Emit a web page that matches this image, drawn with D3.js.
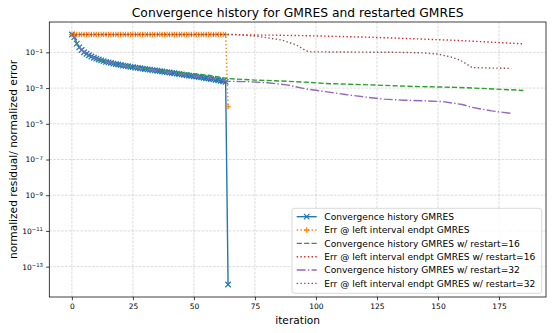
<!DOCTYPE html>
<html>
<head>
<meta charset="utf-8">
<script src="https://cdn.jsdelivr.net/npm/d3@7"></script>
<style>
	body { margin: 0; background: #fff; }
	text { font-family: "DejaVu Sans", sans-serif; fill: #000; }
</style>
</head>
<body>
<div id="chart"></div>
<script>
// Residual history of full GMRES (x = iteration = index)
const gmresResidual = [
	1.0, 0.708, 0.309, 0.191, 0.135, 0.102, 0.0832, 0.0692, 0.0589, 0.0501, 0.0447, 0.0398, 0.0355, 0.0324, 0.0295, 0.0275,
	0.0257, 0.0234, 0.0219, 0.0209, 0.0195, 0.0182, 0.0174, 0.0166, 0.0155, 0.0148, 0.0141, 0.0135, 0.0129, 0.0123, 0.0117, 0.0112,
	0.0107, 0.0102, 0.00977, 0.00933, 0.00891, 0.00851, 0.00813, 0.00776, 0.00741, 0.00708, 0.00676, 0.00646, 0.00617, 0.00589, 0.00550, 0.00525,
	0.00501, 0.00479, 0.00457, 0.00437, 0.00417, 0.00398, 0.00380, 0.00355, 0.00339, 0.00324, 0.00309, 0.00288, 0.00275, 0.00257, 0.00240, 0.00224,
	1e-14
];

// Error at left interval endpoint, full GMRES (x = index)
const gmresError = [
	1.0, 1.0, 1.0, 1.0, 1.0, 1.0, 1.0, 1.0, 1.0, 1.0, 1.0, 1.0, 1.0, 1.0, 1.0, 1.0,
	1.0, 1.0, 1.0, 1.0, 1.0, 1.0, 1.0, 1.0, 1.0, 1.0, 1.0, 1.0, 1.0, 1.0, 1.0, 1.0,
	1.0, 1.0, 1.0, 1.0, 1.0, 1.0, 1.0, 1.0, 1.0, 1.0, 1.0, 1.0, 1.0, 1.0, 1.0, 1.0,
	1.0, 1.0, 1.0, 1.0, 1.0, 1.0, 1.0, 1.0, 1.0, 1.0, 1.0, 1.0, 1.0, 1.0, 1.0, 1.0,
	9e-5
];

// Restarted GMRES, restart = 16
const r16Iter = [0, 1, 2, 3, 4, 6, 8, 10, 12, 14, 16, 20, 24, 28, 32, 40, 48, 56, 64, 75, 83, 97, 104, 124, 140, 157, 170, 185];
const r16Residual = [1.0, 0.708, 0.309, 0.191, 0.135, 0.0832, 0.0589, 0.0447, 0.0355, 0.0295, 0.0257, 0.0200, 0.0162, 0.0135, 0.0115,
	0.0087, 0.0068, 0.0052, 0.0034, 0.0028, 0.00257, 0.0021, 0.0018, 0.00148, 0.00123, 0.0011, 0.00093, 0.00074];
const r16ErrIter = [0, 16, 32, 48, 64, 75, 83, 97, 112, 124, 140, 157, 169, 185];
const r16Error = [1.0, 1.0, 1.0, 1.0, 1.0, 0.93, 0.92, 0.85, 0.76, 0.69, 0.58, 0.47, 0.39, 0.30];

// Restarted GMRES, restart = 32
const r32Iter = [0, 1, 2, 3, 4, 6, 8, 10, 12, 16, 20, 24, 28, 32, 40, 48, 56, 64, 72, 80, 88, 96, 104, 112, 120, 128, 136, 144, 152, 160, 164, 172, 180];
const r32Residual = [1.0, 0.708, 0.309, 0.191, 0.135, 0.0832, 0.0589, 0.0447, 0.0355, 0.0257, 0.0195, 0.0155, 0.0129, 0.0107, 0.0076,
	0.0052, 0.0036, 0.0024, 0.00229, 0.00200, 0.00151, 0.000891, 0.000631, 0.000437, 0.000316, 0.000240, 0.000209, 0.000195,
	0.000174, 0.000120, 0.0000832, 0.0000525, 0.0000380];
const r32ErrIter = [0, 32, 64, 67, 75, 79, 86, 92, 96, 98, 134, 144, 150, 155, 159, 162, 164, 172, 180];
const r32Error = [1.0, 1.0, 1.0, 1.0, 0.81, 0.69, 0.49, 0.26, 0.12, 0.107, 0.1, 0.093, 0.08, 0.056, 0.037, 0.021, 0.014, 0.0132, 0.0126];

const xTicks = [0, 25, 50, 75, 100, 125, 150, 175];
const yTickExp = [-1, -3, -5, -7, -9, -11, -13];

const legendLabels = [
	"Convergence history GMRES",
	"Err @ left interval endpt GMRES",
	"Convergence history GMRES w/ restart=16",
	"Err @ left interval endpt GMRES w/ restart=16",
	"Convergence history GMRES w/ restart=32",
	"Err @ left interval endpt GMRES w/ restart=32"
];

const svgWidth = 555;
const svgHeight = 333;
const plot = { left: 49.3, right: 546, top: 22, bottom: 297 };

const svg = d3.select("#chart")
	.append("svg")
	.attr("width", svgWidth)
	.attr("height", svgHeight);

// Scales (matplotlib 5% margins)
const xScale = d3.scaleLinear()
	.domain([-9.25, 194.25])
	.range([plot.left, plot.right]);

const yScale = d3.scaleLog()
	.domain([Math.pow(10, -14.7), Math.pow(10, 0.7)])
	.range([plot.bottom, plot.top]);

// Grid lines
const grid = svg.append("g")
	.attr("stroke", "#b0b0b0")
	.attr("stroke-opacity", 0.6)
	.attr("stroke-width", 0.75)
	.attr("stroke-dasharray", "2.7,1.2");

grid.selectAll("line.gx")
	.data(xTicks)
	.enter()
	.append("line")
	.attr("x1", d => xScale(d))
	.attr("x2", d => xScale(d))
	.attr("y1", plot.top)
	.attr("y2", plot.bottom);

grid.selectAll("line.gy")
	.data(yTickExp)
	.enter()
	.append("line")
	.attr("x1", plot.left)
	.attr("x2", plot.right)
	.attr("y1", d => yScale(Math.pow(10, d)))
	.attr("y2", d => yScale(Math.pow(10, d)));

// Clip path for the data
svg.append("clipPath")
	.attr("id", "clip")
	.append("rect")
	.attr("x", plot.left)
	.attr("y", plot.top)
	.attr("width", plot.right - plot.left)
	.attr("height", plot.bottom - plot.top);

const dataGroup = svg.append("g").attr("clip-path", "url(#clip)");

const lineGen = d3.line()
	.x(d => xScale(d[0]))
	.y(d => yScale(d[1]));

const lw = 1.4;
const styles = [
	{ color: "#1f77b4", dash: null, marker: "x" },
	{ color: "#ff7f0e", dash: `${lw},${lw * 1.65}`, marker: "+" },
	{ color: "#2ca02c", dash: `${lw * 3.7},${lw * 1.6}`, marker: null },
	{ color: "#d62728", dash: `${lw},${lw * 1.65}`, marker: null },
	{ color: "#9467bd", dash: `${lw * 6.4},${lw * 1.6},${lw},${lw * 1.6}`, marker: null },
	{ color: "#8c564b", dash: `${lw},${lw * 1.65}`, marker: null }
];

const seriesData = [
	gmresResidual.map((v, i) => [i, v]),
	gmresError.map((v, i) => [i, v]),
	r16Iter.map((it, i) => [it, r16Residual[i]]),
	r16ErrIter.map((it, i) => [it, r16Error[i]]),
	r32Iter.map((it, i) => [it, r32Residual[i]]),
	r32ErrIter.map((it, i) => [it, r32Error[i]])
];

// Marker path, centered at 0,0
function markerPath(type, s) {
	const h = s / 2;
	if (type === "x") return `M${-h},${-h}L${h},${h}M${-h},${h}L${h},${-h}`;
	return `M${-h},0L${h},0M0,${-h}L0,${h}`;
}

seriesData.forEach((pts, k) => {
	const st = styles[k];
	dataGroup.append("path")
		.datum(pts)
		.attr("fill", "none")
		.attr("stroke", st.color)
		.attr("stroke-width", lw)
		.attr("stroke-dasharray", st.dash)
		.attr("d", lineGen);

	if (st.marker) {
		dataGroup.selectAll(`path.m${k}`)
			.data(pts)
			.enter()
			.append("path")
			.attr("class", `m${k}`)
			.attr("transform", d => `translate(${xScale(d[0])},${yScale(d[1])})`)
			.attr("d", markerPath(st.marker, 5.5))
			.attr("stroke", st.color)
			.attr("stroke-width", 1.2)
			.attr("fill", "none");
	}
});

// Axes
const xAxis = svg.append("g")
	.attr("transform", `translate(0, ${plot.bottom})`)
	.call(d3.axisBottom(xScale).tickValues(xTicks).tickSize(3.2).tickPadding(3.2).tickSizeOuter(0));

xAxis.selectAll("text")
	.attr("font-size", "7.5px")
	.attr("font-family", "DejaVu Sans");

const yAxis = svg.append("g")
	.attr("transform", `translate(${plot.left}, 0)`)
	.call(d3.axisLeft(yScale)
		.tickValues(yTickExp.map(e => Math.pow(10, e)))
		.tickSize(3.2)
		.tickPadding(3.2)
		.tickSizeOuter(0)
		.tickFormat(""));

// 10^n labels with superscript
yAxis.selectAll(".tick text")
	.attr("font-size", "7.5px")
	.attr("font-family", "DejaVu Sans")
	.each(function(d) {
		const t = d3.select(this);
		const e = Math.round(Math.log10(d));
		t.append("tspan").text("10");
		t.append("tspan")
			.attr("font-size", "5.3px")
			.attr("dy", "-0.45em")
			.text("\u2212" + Math.abs(e));
	});

[xAxis, yAxis].forEach(ax => {
	ax.select(".domain").remove();
	ax.selectAll(".tick line").attr("stroke", "#000").attr("stroke-width", 0.75);
});

// Spines
svg.append("rect")
	.attr("x", plot.left)
	.attr("y", plot.top)
	.attr("width", plot.right - plot.left)
	.attr("height", plot.bottom - plot.top)
	.attr("fill", "none")
	.attr("stroke", "#000")
	.attr("stroke-width", 0.75);

// Title and axis labels
svg.append("text")
	.attr("x", (plot.left + plot.right) / 2)
	.attr("y", 16.8)
	.attr("text-anchor", "middle")
	.attr("font-size", "12.3px")
	.text("Convergence history for GMRES and restarted GMRES");

svg.append("text")
	.attr("x", (plot.left + plot.right) / 2)
	.attr("y", 323.5)
	.attr("text-anchor", "middle")
	.attr("font-size", "10.6px")
	.text("iteration");

svg.append("text")
	.attr("transform", `translate(16.8, ${(plot.top + plot.bottom) / 2}) rotate(-90)`)
	.attr("text-anchor", "middle")
	.attr("font-size", "10.6px")
	.text("normalized residual/ normalized error");

// Legend
const legend = svg.append("g");

legend.append("rect")
	.attr("x", 292)
	.attr("y", 208.3)
	.attr("width", 249.7)
	.attr("height", 85)
	.attr("rx", 2.5)
	.attr("fill", "#fff")
	.attr("fill-opacity", 0.8)
	.attr("stroke", "#cccccc")
	.attr("stroke-width", 0.75);

legendLabels.forEach((lab, k) => {
	const st = styles[k];
	const yy = 216.7 + k * 13.33;
	legend.append("line")
		.attr("x1", 296.7)
		.attr("x2", 316.7)
		.attr("y1", yy)
		.attr("y2", yy)
		.attr("stroke", st.color)
		.attr("stroke-width", lw)
		.attr("stroke-dasharray", st.dash);
	if (st.marker) {
		legend.append("path")
			.attr("transform", `translate(306.7,${yy})`)
			.attr("d", markerPath(st.marker, 5.5))
			.attr("stroke", st.color)
			.attr("stroke-width", 1.2)
			.attr("fill", "none");
	}
	legend.append("text")
		.attr("x", 324.3)
		.attr("y", yy)
		.attr("dy", "0.35em")
		.attr("font-size", "9.1px")
		.text(lab);
});
</script>
</body>
</html>
